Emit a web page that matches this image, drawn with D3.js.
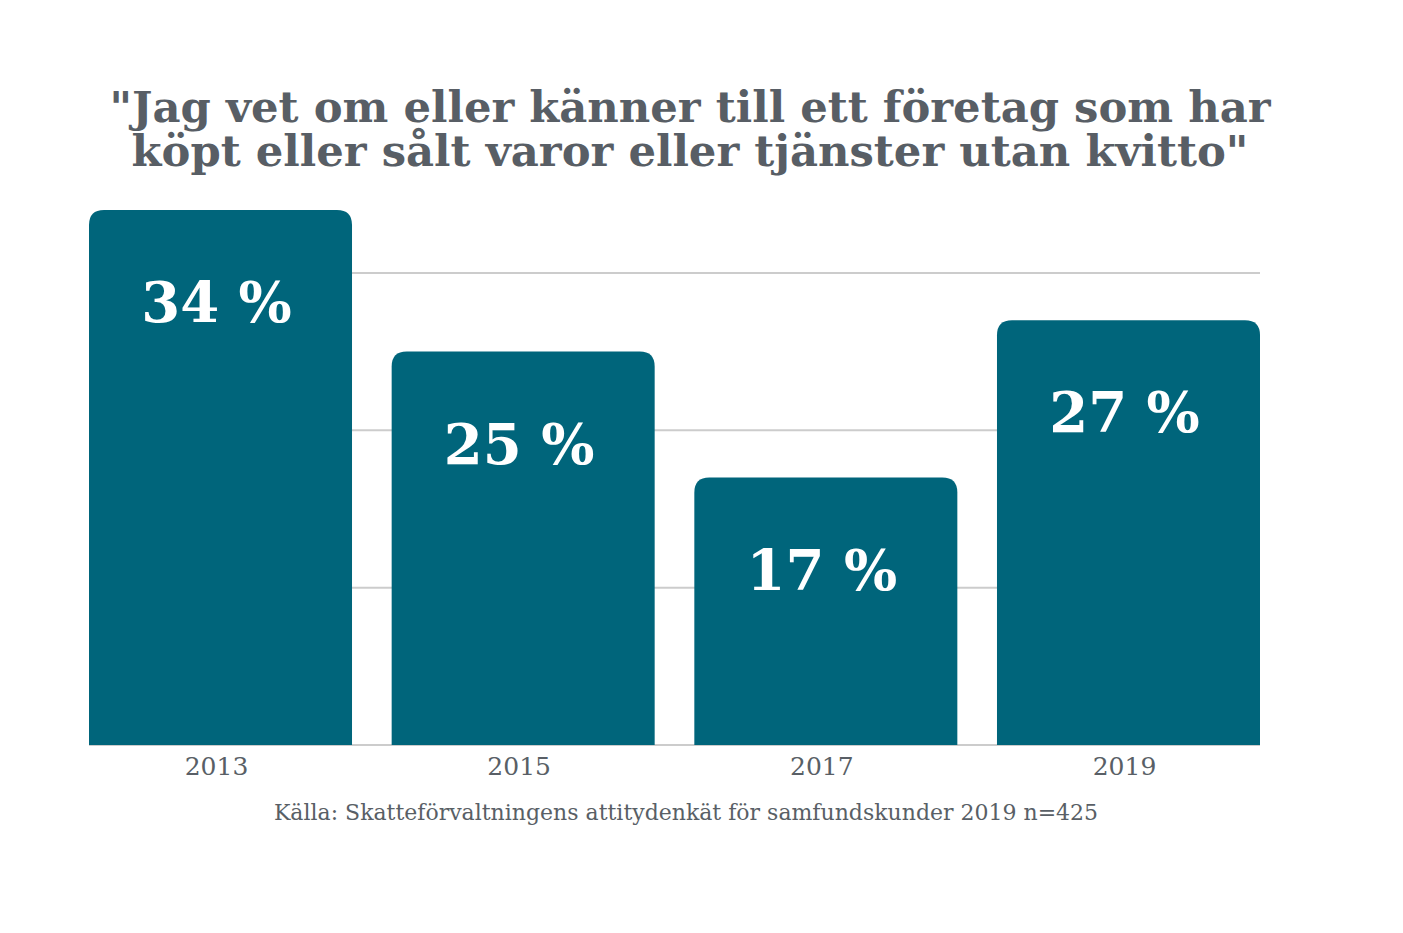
<!DOCTYPE html>
<html>
<head>
<meta charset="utf-8">
<script src="https://cdn.jsdelivr.net/npm/d3@7"></script>
<style>
  body { margin: 0; background: #fff; }
  text { font-family: "Roboto Slab", "DejaVu Serif", serif; }
</style>
</head>
<body>
<div id="chart"></div>
<script>
var years = ["2013", "2015", "2017", "2019"];
var shares = [34, 25, 17, 27];
var gridTicks = [10, 20, 30];
var titleLines = ["\"Jag vet om eller känner till ett företag som har", "köpt eller sålt varor eller tjänster utan kvitto\""];
var sourceText = "Källa: Skatteförvaltningens attitydenkät för samfundskunder 2019 n=425";

var width = 1403, height = 933;
var margin = { top: 0, left: 89, right: 143, bottom: 188 };

var svg = d3.select("#chart").append("svg")
  .attr("width", width)
  .attr("height", height);

// titel
svg.append("g").selectAll("text")
  .data(titleLines)
  .enter()
  .append("text")
  .attr("x", 690)
  .attr("y", function (d, i) { return 122 + i * 44; })
  .attr("text-anchor", "middle")
  .style("font-size", "43.3px")
  .style("font-weight", "bold")
  .style("fill", "#585e65")
  .text(function (d) { return d; });

var x = d3.scaleBand()
  .domain(years)
  .range([margin.left, width - margin.right])
  .paddingInner(0.131)
  .paddingOuter(0);

var y = d3.scaleLinear()
  .domain([0, 34])
  .range([height - margin.bottom, 210]);

// rutnät
svg.append("g").selectAll("line")
  .data(gridTicks)
  .enter()
  .append("line")
  .attr("x1", margin.left)
  .attr("x2", width - margin.right)
  .attr("y1", function (d) { return y(d); })
  .attr("y2", function (d) { return y(d); })
  .style("stroke", "#cccccc")
  .style("stroke-width", 2);

svg.append("line")
  .attr("x1", margin.left)
  .attr("x2", width - margin.right)
  .attr("y1", y(0))
  .attr("y2", y(0))
  .style("stroke", "#cccccc")
  .style("stroke-width", 2);

// staplar med rundade övre hörn
var r = 15;
function barPath(d, i) {
  var x0 = x(years[i]), x1 = x0 + x.bandwidth(), y0 = y(0), y1 = y(d);
  return "M" + x0 + "," + y0 +
    "V" + (y1 + r) +
    "Q" + x0 + "," + y1 + " " + (x0 + r) + "," + y1 +
    "H" + (x1 - r) +
    "Q" + x1 + "," + y1 + " " + x1 + "," + (y1 + r) +
    "V" + y0 + "Z";
}

svg.append("g").selectAll("path")
  .data(shares)
  .enter()
  .append("path")
  .attr("d", barPath)
  .style("fill", "#00657b");

// värden
svg.append("g").selectAll("text")
  .data(shares)
  .enter()
  .append("text")
  .attr("x", function (d, i) { return x(years[i]) + x.bandwidth() / 2 - 4; })
  .attr("y", function (d) { return y(d) + 112; })
  .attr("text-anchor", "middle")
  .style("font-size", "56px")
  .style("font-weight", "bold")
  .style("fill", "#ffffff")
  .text(function (d) { return d + " %"; });

// x-axel
var xAxis = svg.append("g")
  .attr("transform", "translate(0," + y(0) + ")")
  .call(d3.axisBottom(x).tickSize(0).tickPadding(12));
xAxis.select(".domain").remove();
xAxis.selectAll("text")
  .attr("dx", "-4")
  .style("font-family", "\"Roboto Slab\", \"DejaVu Serif\", serif")
  .style("font-size", "25px")
  .style("fill", "#595f66");

// källa
svg.append("text")
  .attr("x", 686)
  .attr("y", 820)
  .attr("text-anchor", "middle")
  .style("font-size", "22px")
  .style("fill", "#595f66")
  .text(sourceText);
</script>
</body>
</html>
